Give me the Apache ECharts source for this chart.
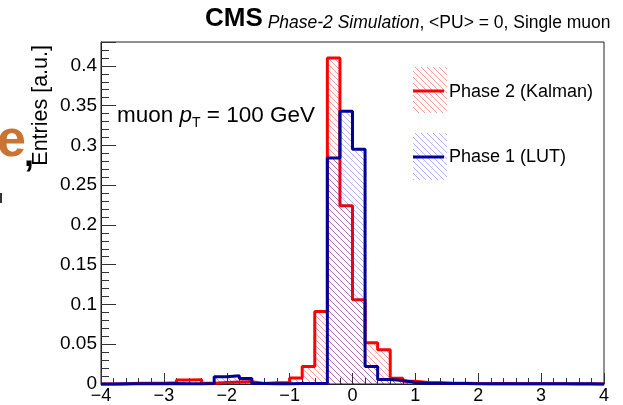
<!DOCTYPE html>
<html>
<head>
<meta charset="utf-8">
<script src="https://cdn.jsdelivr.net/npm/echarts@6/dist/echarts.min.js"></script>
<style>
html,body{margin:0;padding:0;background:#fff;}
#chart{width:623px;height:405px;}
</style>
</head>
<body>
<div id="chart"></div>
<script>
// Bin lower edges (width 0.2) from -4 to 4
const binEdges = [-4.0,-3.8,-3.6,-3.4,-3.2,-3.0,-2.8,-2.6,-2.4,-2.2,-2.0,-1.8,-1.6,-1.4,-1.2,-1.0,-0.8,-0.6,-0.4,-0.2,
                   0.0, 0.2, 0.4, 0.6, 0.8, 1.0, 1.2, 1.4, 1.6, 1.8, 2.0, 2.2, 2.4, 2.6, 2.8, 3.0, 3.2, 3.4, 3.6, 3.8];
const xMax = 4.0;
// Phase 2 (Kalman)
const phase2Values = [0,0,0.001,0.0008,0.001,0.0015,0.005,0.0055,0.001,0.002,0.0025,0.003,0.0005,0.0015,0.002,0.0075,0.022,0.091,0.41,0.224,
                      0.106,0.052,0.043,0.0073,0.0035,0.002,0.0015,0.001,0.0008,0.0005,0.0004,0.0006,0.0003,0.0002,0.0002,0.0004,0.0002,0.0001,0,0];
// Phase 1 (LUT)
const phase1Values = [0,0.0003,0.0003,0.0003,0.0003,0.0005,0.0004,0.0004,0.0005,0.009,0.0105,0.007,0.0005,0.0004,0.0004,0.0005,0.0005,0.0005,0.284,0.343,
                      0.295,0.022,0.0056,0.0044,0.002,0.001,0.0008,0.0006,0.0005,0.0004,0.0004,0.0003,0.0004,0.0003,0.0003,0.0003,0.0002,0.0002,0.0002,0.0001];
const seriesNames = ['Phase 2 (Kalman)', 'Phase 1 (LUT)'];
const xTickValues = [-4,-3,-2,-1,0,1,2,3,4];
const yTickValues = [0,0.05,0.1,0.15,0.2,0.25,0.3,0.35,0.4];

function hatch(color){
  const c = document.createElement('canvas');
  c.width = 6; c.height = 6;
  const g = c.getContext('2d');
  g.strokeStyle = color; g.lineWidth = 1;
  g.beginPath();
  g.moveTo(-1,-1); g.lineTo(7,7);
  g.moveTo(-1,5); g.lineTo(1,7);
  g.moveTo(5,-1); g.lineTo(7,1);
  g.stroke();
  return c;
}
const redHatch = hatch('rgba(255,0,0,0.38)');
const blueHatch = hatch('rgba(0,0,255,0.3)');

function histData(vals){
  const d = binEdges.map((e,i)=>[e, vals[i]]);
  d.push([xMax, vals[vals.length-1]]);
  return d;
}
const FONT = 'Liberation Sans, Arial, Helvetica, sans-serif';

const chart = echarts.init(document.getElementById('chart'), null, {renderer:'canvas'});
chart.setOption({
  animation: false,
  backgroundColor: '#fff',
  grid: {left:101, right:19, top:42, bottom:21, show:true, borderColor:'#222', borderWidth:1, backgroundColor:'transparent'},
  xAxis: {
    type:'value', min:-4, max:4, interval:1,
    axisLine:{show:true, onZero:false, lineStyle:{color:'#222', width:1}},
    axisTick:{show:true, inside:true, length:11, lineStyle:{color:'#333'}},
    minorTick:{show:true, splitNumber:5, length:6, lineStyle:{color:'#333'}},
    splitLine:{show:false},
    axisLabel:{color:'#000', fontSize:18, fontFamily:FONT, margin:3,
      formatter: v => xTickValues.includes(v) ? String(v).replace('-', '\u2212') : ''}
  },
  yAxis: {
    type:'value', min:0, max:0.43, interval:0.05,
    axisLine:{show:true, onZero:false, lineStyle:{color:'#222', width:1}},
    axisTick:{show:true, inside:true, length:15, lineStyle:{color:'#333'}},
    minorTick:{show:true, splitNumber:5, length:8, lineStyle:{color:'#333'}},
    splitLine:{show:false},
    axisLabel:{color:'#000', fontSize:19, fontFamily:FONT, margin:4, showMaxLabel:false,
      formatter: v => { const r = parseFloat(v.toFixed(2)); return yTickValues.some(t=>Math.abs(t-r)<1e-9) ? String(r) : ''; }}
  },
  series: [
    {name:seriesNames[0], type:'line', step:'end', data:histData(phase2Values), showSymbol:false, clip:false,
     lineStyle:{color:'#ff0000', width:3}, itemStyle:{color:'#ff0000'},
     areaStyle:{color:{image:redHatch, repeat:'repeat'}, opacity:1}, z:2},
    {name:seriesNames[1], type:'line', step:'end', data:histData(phase1Values), showSymbol:false, clip:false,
     lineStyle:{color:'#000099', width:3}, itemStyle:{color:'#000099'},
     areaStyle:{color:{image:blueHatch, repeat:'repeat'}, opacity:1}, z:3}
  ],
  graphic: [
    // title
    {type:'text', left:205, top:6, z:10, style:{
      text:'{c|CMS}{r| }{i|Phase-2 Simulation}{r|, <PU> = 0, Single muon}',
      rich:{
        c:{fontSize:26, fontWeight:'bold', fontFamily:FONT, fill:'#000', verticalAlign:'bottom', lineHeight:29},
        i:{fontSize:17.5, fontStyle:'italic', fontFamily:FONT, fill:'#000', verticalAlign:'bottom', lineHeight:27},
        r:{fontSize:17.5, fontFamily:FONT, fill:'#000', verticalAlign:'bottom', lineHeight:27}
      }}},
    // y axis title
    {type:'text', x:41, y:45, rotation:Math.PI/2, z:10, style:{
      text:'Entries [a.u.]', fontSize:21.5, fontFamily:FONT, fill:'#000', align:'right', verticalAlign:'middle'}},
    // muon pT annotation
    {type:'text', left:117, top:104, z:10, style:{
      text:'{a|muon }{p|p}{s|T}{a| = 100 GeV}',
      rich:{
        a:{fontSize:22.5, fontFamily:FONT, fill:'#000', lineHeight:30, verticalAlign:'middle'},
        p:{fontSize:22.5, fontFamily:FONT, fontStyle:'italic', fill:'#000', lineHeight:30, verticalAlign:'middle'},
        s:{fontSize:14, fontFamily:FONT, fill:'#000', lineHeight:14, verticalAlign:'bottom'}
      }}},
    // legend entries
    {type:'rect', shape:{x:413, y:67, width:34, height:46}, style:{fill:{image:redHatch, repeat:'repeat'}}, z:10},
    {type:'line', shape:{x1:413, y1:91, x2:444, y2:91}, style:{stroke:'#ff0000', lineWidth:3}, z:11},
    {type:'text', x:449, y:92, z:11, style:{text:seriesNames[0], fontSize:18, fontFamily:FONT, fill:'#000', verticalAlign:'middle'}},
    {type:'rect', shape:{x:413, y:133, width:34, height:47}, style:{fill:{image:blueHatch, repeat:'repeat'}}, z:10},
    {type:'line', shape:{x1:413, y1:157, x2:444, y2:157}, style:{stroke:'#000099', lineWidth:3}, z:11},
    {type:'text', x:449, y:157, z:11, style:{text:seriesNames[1], fontSize:18, fontFamily:FONT, fill:'#000', verticalAlign:'middle'}},
    // slide artefacts at the left edge
    {type:'text', x:-3, y:168, z:12, style:{text:'e', fontSize:52, fontWeight:'bold', fontFamily:FONT, fill:'#c87533', verticalAlign:'bottom'}},
    {type:'text', x:24, y:174, z:12, style:{text:',', fontSize:36, fontWeight:'bold', fontFamily:FONT, fill:'#000', verticalAlign:'bottom'}},
    {type:'rect', shape:{x:0, y:193, width:2, height:10}, style:{fill:'#333'}, z:12}
  ]
});
</script>
</body>
</html>
